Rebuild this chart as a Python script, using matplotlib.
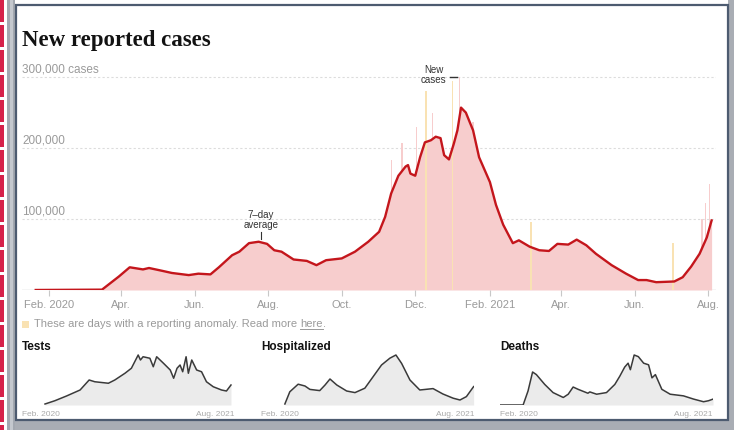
import matplotlib
matplotlib.use("Agg")
import matplotlib.pyplot as plt
import matplotlib.dates as mdates
from matplotlib.patches import Rectangle
import pandas as pd

W, H = 734, 430

# 7-day average of new cases
avg_dates = [
    "2020-01-21", "2020-03-16", "2020-03-30", "2020-04-08", "2020-04-19", "2020-04-24",
    "2020-05-05", "2020-05-13", "2020-05-27", "2020-06-04", "2020-06-14", "2020-06-21",
    "2020-07-02", "2020-07-08", "2020-07-16", "2020-07-24", "2020-07-31", "2020-08-06",
    "2020-08-12", "2020-08-22", "2020-09-02", "2020-09-10", "2020-09-18", "2020-10-01",
    "2020-10-12", "2020-10-23", "2020-11-01", "2020-11-06", "2020-11-11", "2020-11-17",
    "2020-11-23", "2020-11-25", "2020-11-27", "2020-12-01", "2020-12-05", "2020-12-09",
    "2020-12-14", "2020-12-18", "2020-12-22", "2020-12-25", "2020-12-29", "2021-01-02",
    "2021-01-05", "2021-01-08", "2021-01-12", "2021-01-18", "2021-01-23", "2021-02-01",
    "2021-02-06", "2021-02-12", "2021-02-20", "2021-02-25", "2021-03-06", "2021-03-14",
    "2021-03-22", "2021-03-29", "2021-04-07", "2021-04-14", "2021-04-22", "2021-04-30",
    "2021-05-13", "2021-05-25", "2021-06-04", "2021-06-11", "2021-06-19", "2021-07-04",
    "2021-07-11", "2021-07-18", "2021-07-25", "2021-07-31", "2021-08-04",
]
avg_cases = [
    0, 500, 19000, 32000, 29000, 31000,
    27000, 24000, 21000, 23000, 22000, 32000,
    49000, 54000, 66000, 68000, 65000, 56000,
    54000, 43000, 41000, 35000, 42000, 44500,
    54000, 68000, 82000, 103000, 136000, 161000,
    174000, 176000, 164000, 161000, 187000, 208000,
    211000, 216000, 214000, 190000, 184000, 206000,
    225000, 257000, 250000, 225000, 187000, 152000,
    120000, 92000, 66000, 70000, 61000, 56000,
    55000, 65000, 64000, 71000, 63000, 51000,
    35000, 23000, 14000, 14000, 11000, 12000,
    18000, 33000, 51000, 74000, 98000,
]

# daily reports that stick out above the average
spike_dates = [
    "2020-11-11", "2020-11-20", "2020-12-02", "2020-12-10", "2020-12-15",
    "2021-01-01", "2021-01-07", "2021-01-18", "2021-03-07", "2021-07-03",
    "2021-07-27", "2021-07-30", "2021-08-02",
]
spike_cases = [
    183000, 207000, 230000, 280000, 249000,
    295000, 300000, 237000, 96000, 66000,
    100000, 122000, 150000,
]
spike_anomaly = [
    False, False, False, True, False,
    True, False, False, True, True,
    False, False, False,
]

month_ticks = [
    "2020-02-01", "2020-04-01", "2020-06-01", "2020-08-01", "2020-10-01",
    "2020-12-01", "2021-02-01", "2021-04-01", "2021-06-01", "2021-08-01",
]
month_labels = ["Feb. 2020", "Apr.", "Jun.", "Aug.", "Oct.",
                "Dec.", "Feb. 2021", "Apr.", "Jun.", "Aug."]
y_ticks = [100000, 200000, 300000]
y_labels = ["100,000", "200,000", "300,000 cases"]

# small multiples (tests in millions, hospitalized in thousands, deaths per day)
tests_dates = [
    "2020-03-22", "2020-04-17", "2020-05-18", "2020-06-23", "2020-07-17", "2020-08-01",
    "2020-09-06", "2020-09-23", "2020-10-20", "2020-11-06", "2020-11-24", "2020-11-30",
    "2020-12-07", "2020-12-25", "2021-01-03", "2021-01-12", "2021-01-30", "2021-02-17",
    "2021-02-26", "2021-03-07", "2021-03-15", "2021-03-22", "2021-03-31", "2021-04-06",
    "2021-04-15", "2021-04-28", "2021-05-11", "2021-05-24", "2021-06-11", "2021-07-03",
    "2021-07-16", "2021-07-28",
]
tests_vals = [
    0.04, 0.17, 0.36, 0.60, 1.00, 0.93,
    0.87, 1.00, 1.27, 1.47, 2.00, 1.80,
    1.93, 1.87, 1.53, 1.93, 1.67, 1.40,
    1.07, 1.47, 1.60, 1.33, 1.93, 1.27,
    1.80, 1.40, 1.33, 0.93, 0.73, 0.60,
    0.56, 0.80,
]
hosp_dates = [
    "2020-03-24", "2020-04-06", "2020-04-28", "2020-05-16", "2020-05-29", "2020-06-24",
    "2020-07-08", "2020-07-21", "2020-08-08", "2020-09-03", "2020-09-25", "2020-10-21",
    "2020-11-12", "2020-12-04", "2020-12-26", "2021-01-11", "2021-01-26", "2021-02-17",
    "2021-03-15", "2021-04-19", "2021-05-15", "2021-06-11", "2021-06-29", "2021-07-16",
    "2021-08-04",
]
hosp_vals = [
    2.5, 33, 52, 47.5, 39, 36,
    50, 65, 50, 35, 31, 42,
    71, 100, 117, 125, 104, 62.5,
    37.5, 41, 27.5, 17, 12.5, 21,
    46,
]
death_dates = [
    "2020-01-21", "2020-03-22", "2020-04-04", "2020-04-16", "2020-04-26", "2020-05-18",
    "2020-06-09", "2020-07-06", "2020-07-19", "2020-08-01", "2020-08-14", "2020-09-09",
    "2020-09-14", "2020-10-02", "2020-10-28", "2020-11-19", "2020-12-02", "2020-12-15",
    "2020-12-24", "2020-12-30", "2021-01-09", "2021-01-20", "2021-02-03", "2021-02-16",
    "2021-02-25", "2021-03-06", "2021-03-23", "2021-04-14", "2021-05-19", "2021-06-15",
    "2021-07-11", "2021-07-24", "2021-08-05",
]
death_vals = [
    0, 0, 955, 2244, 2067, 1400,
    844, 511, 733, 1222, 1067, 800,
    890, 733, 845, 1400, 1955, 2578,
    2844, 2400, 3400, 3289, 2844, 2733,
    1844, 2067, 1067, 733, 622, 400,
    222, 289, 400,
]

RED = "#c4161c"
PINK = "#f7cdcd"
ANOMALY = "#f9e2b3"
GREY_TXT = "#9a9a9a"


def box(x0, y0, x1, y1):
    # pixel box (from top-left) -> figure fraction rect
    return [x0 / W, 1 - y1 / H, (x1 - x0) / W, (y1 - y0) / H]


def to_num(dates):
    return mdates.date2num(pd.to_datetime(dates))


fig = plt.figure(figsize=(W / 100, H / 100), dpi=100)
fig.patch.set_facecolor("white")

# background layer in pixel coordinates: frame, title, notes
bg = fig.add_axes([0, 0, 1, 1])
bg.set_xlim(0, W)
bg.set_ylim(H, 0)
bg.axis("off")
bg.set_zorder(0)

# red dashed strip on the far left
for y in range(-2, H, 25):
    bg.add_patch(Rectangle((0, y + 2), 4, 22, color="#d6224a", lw=0))
bg.add_patch(Rectangle((7, 0), 8, H, color="#a3a8b0", lw=0))
bg.add_patch(Rectangle((10, 0), 3, H, color="#c4c8ce", lw=0))
bg.add_patch(Rectangle((15, 419), W - 15, H - 419, color="#a9adb4", lw=0))
bg.add_patch(Rectangle((728, 0), 6, H, color="#a9adb4", lw=0))
bg.add_patch(Rectangle((15.5, 4.5), 712.5, 415, facecolor="white",
                       edgecolor="#4d5b70", lw=1.6))

bg.text(22, 46, "New reported cases", fontsize=16.5, fontweight="bold",
        family="Liberation Serif", color="#121212", va="baseline", ha="left")

# footnote
bg.add_patch(Rectangle((22, 320.5), 7, 7, color=ANOMALY, lw=0))
note = bg.text(34, 324, "These are days with a reporting anomaly. Read more ",
               fontsize=8, color=GREY_TXT, va="center", ha="left",
               family="Liberation Sans")
fig.canvas.draw()
r = fig.canvas.get_renderer()
bb = note.get_window_extent(r)
x_here = bb.x1 * W / fig.bbox.width
here = bg.text(x_here, 324, "here", fontsize=8, color=GREY_TXT, va="center",
               ha="left", family="Liberation Sans")
hb = here.get_window_extent(r)
bg.text(hb.x1 * W / fig.bbox.width, 324, ".", fontsize=8, color=GREY_TXT,
        va="center", ha="left", family="Liberation Sans")
bg.plot([x_here, hb.x1 * W / fig.bbox.width], [329, 329], color=GREY_TXT, lw=0.7)

# main chart
x_left = mdates.date2num(pd.Timestamp("2020-02-01")) - 27 / 1.205
x_right = mdates.date2num(pd.Timestamp("2021-08-01")) + 8 / 1.205

ax = fig.add_axes(box(22, 70, 716, 290))
ax.set_zorder(1)
ax.patch.set_alpha(0)
ax.set_xlim(x_left, x_right)
ax.set_ylim(0, 310000)
for s in ax.spines.values():
    s.set_visible(False)

for v, lab in zip(y_ticks, y_labels):
    ax.axhline(v, color="#dcdcdc", lw=0.8, ls=(0, (2, 2)), zorder=0)
    ax.text(0, v + 2500, lab, transform=ax.get_yaxis_transform(),
            fontsize=8.5, color=GREY_TXT, va="bottom", ha="left",
            family="Liberation Sans")
ax.axhline(0, color="#cfcfcf", lw=1, zorder=0)

ad = to_num(avg_dates)
ax.fill_between(ad, avg_cases, color=PINK, lw=0, zorder=1)
sd = to_num(spike_dates)
spike_colors = [ANOMALY if a else PINK for a in spike_anomaly]
ax.bar(sd, spike_cases, width=1.0, color=spike_colors, lw=0, zorder=1)
ax.plot(ad, avg_cases, color=RED, lw=1.7, zorder=3, solid_joinstyle="round")

ax.set_yticks([])
ax.set_xticks(to_num(month_ticks))
ax.set_xticklabels(month_labels)
ax.tick_params(axis="x", length=4, color="#c8c8c8", labelcolor=GREY_TXT,
               labelsize=8, pad=3)
for t in ax.get_xticklabels():
    t.set_family("Liberation Sans")

# annotations
ax.text(mdates.date2num(pd.Timestamp("2020-07-26")), 84000, "7\u2013day\naverage",
        fontsize=7, color="#333333", ha="center", va="bottom",
        linespacing=1.0, family="Liberation Sans")
ax.plot([mdates.date2num(pd.Timestamp("2020-07-26"))] * 2, [71500, 81500],
        color="#333333", lw=0.8)
ax.text(mdates.date2num(pd.Timestamp("2020-12-27")), 289000, "New\ncases",
        fontsize=7, color="#333333", ha="right", va="bottom",
        multialignment="center", linespacing=1.0, family="Liberation Sans")
ax.plot(to_num(["2020-12-30", "2021-01-05"]), [300500, 300500],
        color="#333333", lw=1.0)

# small multiples
small = [
    ("Tests", 22, 234, tests_dates, tests_vals),
    ("Hospitalized", 261, 474, hosp_dates, hosp_vals),
    ("Deaths", 500, 713, death_dates, death_vals),
]
sx_left = mdates.date2num(pd.Timestamp("2020-01-21"))
sx_right = mdates.date2num(pd.Timestamp("2021-08-05"))
for name, x0, x1, dates, vals in small:
    bg.text(x0, 347, name, fontsize=8.5, fontweight="bold", color="#121212",
            va="center", ha="left", family="Liberation Sans")
    bg.text(x0, 414, "Feb. 2020", fontsize=6, color="#aaaaaa", va="center",
            ha="left", family="Liberation Sans")
    bg.text(x1, 414, "Aug. 2021", fontsize=6, color="#aaaaaa", va="center",
            ha="right", family="Liberation Sans")
    sa = fig.add_axes(box(x0, 352, x1, 405))
    sa.set_zorder(1)
    sa.patch.set_alpha(0)
    d = to_num(dates)
    sa.fill_between(d, vals, color="#ebebeb", lw=0)
    sa.plot(d, vals, color="#3a3a3a", lw=1.1)
    sa.set_xlim(sx_left, sx_right)
    sa.set_ylim(0, max(vals) * 53 / 50)
    sa.axis("off")

fig.savefig("out.png", dpi=100)
